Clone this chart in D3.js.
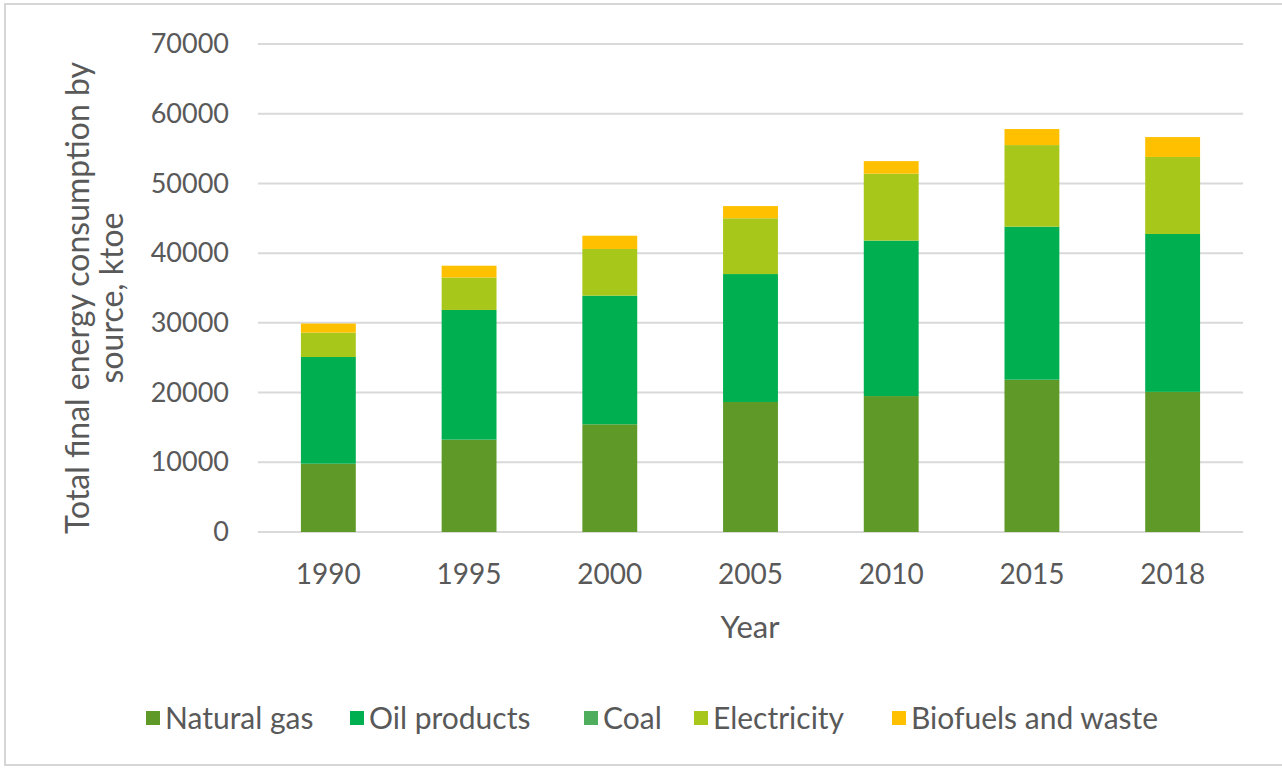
<!DOCTYPE html>
<html>
<head>
<meta charset="utf-8">
<script src="https://cdn.jsdelivr.net/npm/d3@7"></script>
<style>
  html, body { margin: 0; padding: 0; background: #fff; }
  svg { display: block; font-family: Lato, "Open Sans", sans-serif; }
</style>
</head>
<body>
<svg id="chart" width="1282" height="769"></svg>
<script>
// Total final energy consumption by source, ktoe
const years = ["1990", "1995", "2000", "2005", "2010", "2015", "2018"];
const naturalGas   = [9800, 13250, 15450, 18650, 19500, 21850, 20100];
const oilProducts  = [15300, 18600, 18450, 18350, 22300, 21950, 22650];
const coal         = [0, 0, 0, 0, 0, 0, 0];
const electricity  = [3500, 4650, 6700, 8000, 9600, 11700, 11050];
const biofuels     = [1300, 1700, 1900, 1750, 1800, 2300, 2850];
const yTicks = [0, 10000, 20000, 30000, 40000, 50000, 60000, 70000];

const seriesNames  = ["Natural gas", "Oil products", "Coal", "Electricity", "Biofuels and waste"];
const seriesValues = [naturalGas, oilProducts, coal, electricity, biofuels];
const seriesColors = ["#5f9a29", "#00b050", "#4fae5e", "#a8c71b", "#ffc000"];

const rows = years.map((yr, i) => {
  const r = { year: yr };
  seriesNames.forEach((n, k) => { r[n] = seriesValues[k][i]; });
  return r;
});

const svg = d3.select("#chart");
const W = 1282, H = 769;

// outer frame
svg.append("rect")
  .attr("x", 5).attr("y", 4).attr("width", W + 10).attr("height", 761)
  .attr("fill", "#fff").attr("stroke", "#d6d6d6").attr("stroke-width", 2);

const x = d3.scaleBand().domain(years).range([258, 1243])
  .paddingInner(0.61).paddingOuter(0.305);
const y = d3.scaleLinear().domain([0, 70000]).range([532, 44]);

// gridlines
svg.append("g")
  .selectAll("line").data(yTicks).join("line")
  .attr("x1", 258).attr("x2", 1243)
  .attr("y1", d => y(d)).attr("y2", d => y(d))
  .attr("stroke", "#d9d9d9").attr("stroke-width", 2);

// y axis labels
const yAxis = d3.axisLeft(y).tickValues(yTicks).tickSize(0).tickPadding(0)
  .tickFormat(d3.format("d"));
const gy = svg.append("g").attr("transform", "translate(229,0)").call(yAxis);
gy.select(".domain").remove();
gy.selectAll("text").attr("fill", "#595959").style("font-size", "27px")
  .style("font-family", "Lato, sans-serif");

// stacked bars
const stack = d3.stack().keys(seriesNames);
const layers = stack(rows);
svg.append("g").selectAll("g").data(layers).join("g")
  .attr("fill", (d, i) => seriesColors[i])
  .selectAll("rect").data(d => d).join("rect")
  .attr("x", d => x(d.data.year))
  .attr("width", x.bandwidth())
  .attr("y", d => y(d[1]))
  .attr("height", d => y(d[0]) - y(d[1]));

// x axis labels
const xAxis = d3.axisBottom(x).tickSize(0).tickPadding(0);
const gx = svg.append("g").attr("transform", "translate(0,564)").call(xAxis);
gx.select(".domain").remove();
gx.selectAll("text").attr("fill", "#595959").style("font-size", "28px")
  .style("font-family", "Lato, sans-serif").attr("dy", "0.7em");

// axis titles
svg.append("text").attr("x", 750).attr("y", 638)
  .attr("text-anchor", "middle").attr("fill", "#595959")
  .style("font-size", "31px").text("Year");

const yTitle = svg.append("text")
  .attr("transform", "translate(0,298) rotate(-90)")
  .attr("text-anchor", "middle").attr("fill", "#595959")
  .style("font-size", "32px");
yTitle.append("tspan").attr("x", 0).attr("y", 89).text("Total final energy consumption by");
yTitle.append("tspan").attr("x", 0).attr("y", 123).text("source, ktoe");

// legend
const legendX = [146, 350, 584, 694, 892];
const lg = svg.append("g").selectAll("g").data(seriesNames).join("g")
  .attr("transform", (d, i) => `translate(${legendX[i]},718)`);
lg.append("rect").attr("x", 0).attr("y", -7).attr("width", 14).attr("height", 14)
  .attr("fill", (d, i) => seriesColors[i]);
lg.append("text").attr("x", 19).attr("y", 0).attr("dy", "0.36em")
  .attr("fill", "#595959").style("font-size", "30px").text(d => d);
</script>
</body>
</html>
